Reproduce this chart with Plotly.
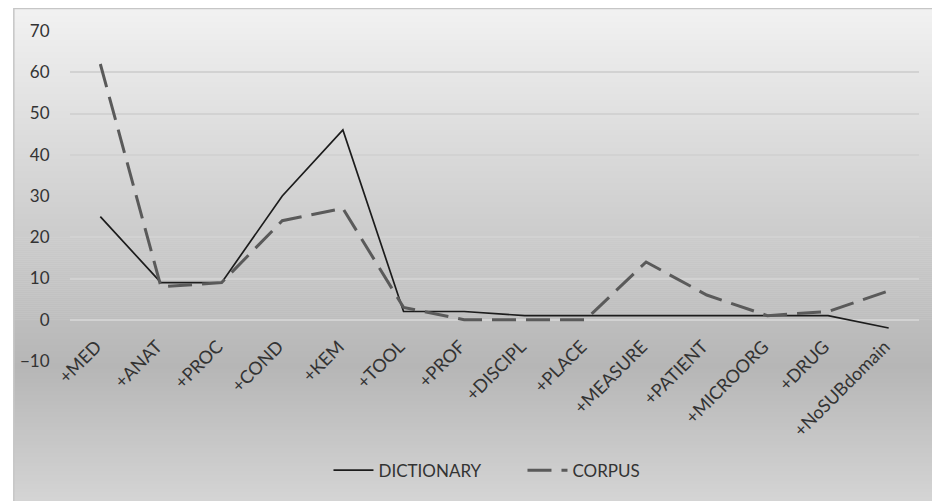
import plotly.graph_objects as go

categories = ["+MED", "+ANAT", "+PROC", "+COND", "+KEM", "+TOOL", "+PROF", "+DISCIPL",
              "+PLACE", "+MEASURE", "+PATIENT", "+MICROORG", "+DRUG", "+NoSUBdomain"]
dictionary = [25, 9, 9, 30, 46, 2, 2, 1, 1, 1, 1, 1, 1, -2]
corpus = [62, 8, 9, 24, 27, 3, 0, 0, 0, 14, 6, 1, 2, 7]
y_ticks = [-10, 0, 10, 20, 30, 40, 50, 60, 70]

OFF = 8  # page body margin
W, H = 940 - OFF, 501 - OFF
ML, MR, MT, MB = 65 - OFF, 21, 31 - OFF, 139
PH = H - MT - MB

def py2paper(py):  # py in window pixels
    return (H - MB - (py - OFF)) / PH

def px2paper(px):
    return (px - OFF - ML) / (W - ML - MR)

stops = [(0, 243), (368, 182), (501, 212)]
def gray(py):
    for (y0, g0), (y1, g1) in zip(stops[:-1], stops[1:]):
        if y0 <= py <= y1:
            t = (py - y0) / (y1 - y0)
            return round(g0 + (g1 - g0) * t)
    return stops[-1][1]

shapes = []
step = 2
y = OFF
while y < 501:
    g = gray(y + step / 2)
    shapes.append(dict(type="rect", xref="paper", yref="paper", layer="below",
                       x0=px2paper(OFF), x1=px2paper(945),
                       y0=py2paper(y + step + 0.5), y1=py2paper(y),
                       fillcolor=f"rgb({g},{g},{g})", line=dict(width=0)))
    y += step
shapes.append(dict(type="rect", xref="paper", yref="paper", layer="below",
                   x0=px2paper(OFF + 0.5), x1=px2paper(950), y0=py2paper(510), y1=py2paper(OFF + 0.5),
                   fillcolor="rgba(0,0,0,0)", line=dict(color="#c6c6c6", width=1.5)))

font = dict(family="Lato, Noto Sans, sans-serif", size=17, color="#333333")
xfont = dict(family="Lato, Noto Sans, sans-serif", size=18, color="#333333")

fig = go.Figure()
fig.add_trace(go.Scatter(x=categories, y=dictionary, name="DICTIONARY", mode="lines",
                         line=dict(color="#1c1c1c", width=1.7)))
fig.add_trace(go.Scatter(x=categories, y=corpus, name="CORPUS", mode="lines",
                         line=dict(color="#5a5a5a", width=3, dash="24px,10px")))

fig.update_layout(
    width=W, height=H,
    margin=dict(l=ML, r=MR, t=MT, b=MB, pad=0),
    paper_bgcolor="white", plot_bgcolor="rgba(0,0,0,0)",
    font=font,
    shapes=shapes,
    showlegend=True,
    legend=dict(orientation="h", x=px2paper(325), xanchor="left",
                y=py2paper(472), yanchor="middle", font=font,
                bgcolor="rgba(0,0,0,0)", itemwidth=40, entrywidth=139,
                entrywidthmode="pixels", tracegroupgap=0),
    xaxis=dict(type="category", range=[-0.5, 13.5], anchor="free",
               position=10 / 80 - 12 / PH,
               showline=False, showgrid=False, zeroline=False, ticks="",
               tickangle=-45, tickfont=xfont, fixedrange=True,
               ticklabelshift=-4),
    yaxis=dict(range=[-10, 70], tickvals=y_ticks, showgrid=True, gridcolor="#d2d2d2",
               gridwidth=2, zeroline=False, showline=False, ticks="outside",
               ticklen=16, tickcolor="rgba(0,0,0,0)", tickfont=font, fixedrange=True),
)

fig.write_html("out.html")
